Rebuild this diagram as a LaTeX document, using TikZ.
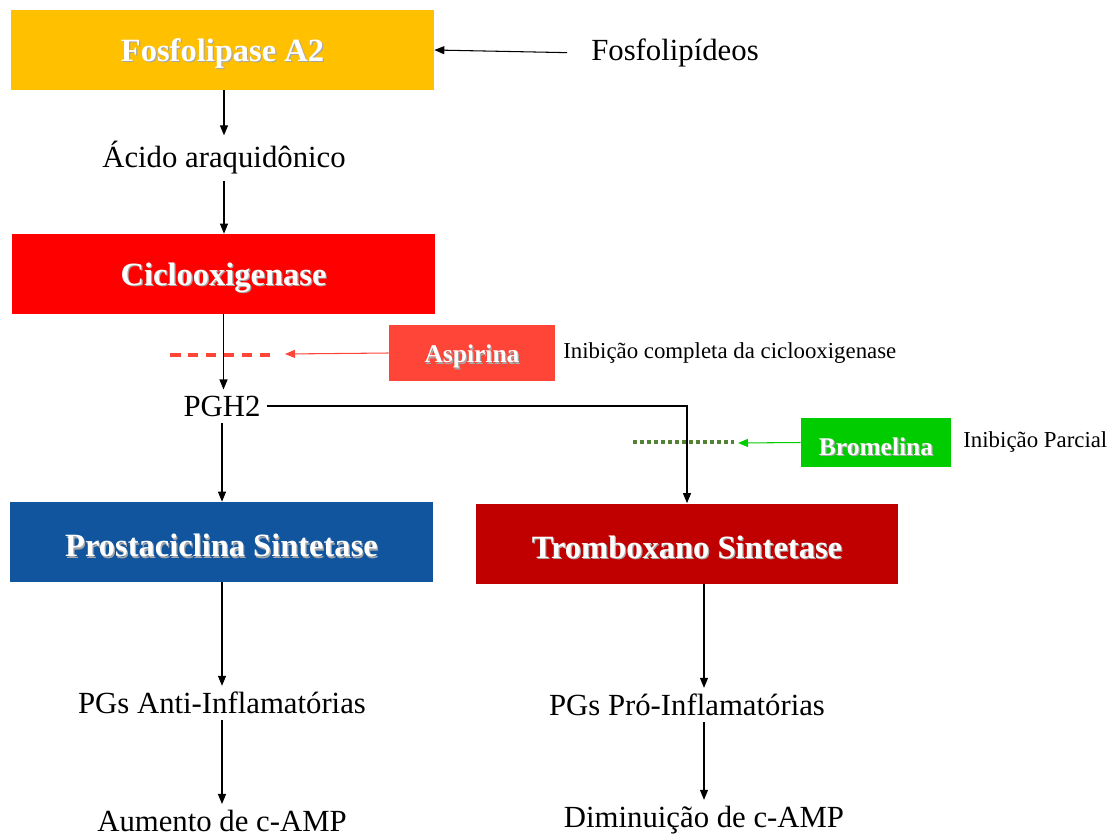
\documentclass[tikz,border=0pt]{standalone}
\usepackage{fontspec}
\setmainfont{Liberation Serif}
\usepackage{tikz}
\usetikzlibrary{arrows.meta}
\usepackage{xcolor}

\definecolor{fosfocolor}{HTML}{FFC000}
\definecolor{ciclocolor}{HTML}{FF0000}
\definecolor{prostcolor}{HTML}{11559F}
\definecolor{trombcolor}{HTML}{C00000}
\definecolor{aspcolor}{HTML}{FF4438}
\definecolor{bromcolor}{HTML}{00CC00}
\definecolor{bromdot}{HTML}{548235}

\newcommand{\shadowed}[1]{\raisebox{-2.5pt}[\height][\depth]{\rlap{\kern0.7pt\raisebox{-0.7pt}{\color{black!35}#1}}#1}}

\begin{document}
\begin{tikzpicture}[x=0.02cm, y=-0.02cm,
    enzyme/.style={fill=#1, text=white, inner sep=0pt,
      minimum width=8.46cm, minimum height=1.6cm,
      font=\fontsize{18.5}{21}\selectfont\bfseries},
    drug/.style={fill=#1, text=white, inner sep=0pt,
      font=\fontsize{14.5}{17}\selectfont\bfseries},
    term/.style={font=\fontsize{17.5}{20}\selectfont},
    note/.style={font=\fontsize{13}{15}\selectfont, inner sep=0pt},
    flow/.style={-{Triangle[length=0.2cm, width=0.16cm]}, line width=0.6pt}]
    \useasboundingbox (0,0) rectangle (1112,839);

    \node[enzyme=fosfocolor] (fosfo) at (222.5, 50) {\shadowed{Fosfolipase A2}};
    \node[term] (fosfolip) at (675, 53) {Fosfolipídeos};
    \node[term] (acido) at (224, 158) {Ácido araquidônico};
    \node[enzyme=ciclocolor] (ciclo) at (223.5, 274) {\shadowed{Ciclooxigenase}};
    \node[term] (pgh) at (222, 406) {PGH2};

    \node[drug=aspcolor, minimum width=3.32cm, minimum height=1.12cm] (asp) at (472, 353) {\shadowed{Aspirina}};
    \node[note, anchor=west] (aspnote) at (563, 353) {Inibição completa da ciclooxigenase};
    \node[drug=bromcolor, minimum width=3cm, minimum height=0.98cm] (brom) at (876, 442.5) {\shadowed{Bromelina}};
    \node[note, anchor=west] (bromnote) at (963, 442) {Inibição Parcial};

    \node[enzyme=prostcolor] (prost) at (221.5, 542) {\shadowed{Prostaciclina Sintetase}};
    \node[enzyme=trombcolor] (tromb) at (687, 543.5) {\shadowed{Tromboxano Sintetase}};

    \node[term] (pganti) at (222, 703) {PGs Anti-Inflamatórias};
    \node[term] (pgpro) at (687, 705) {PGs Pró-Inflamatórias};
    \node[term] (aumento) at (222, 821) {Aumento de c-AMP};
    \node[term] (diminui) at (704, 820) {Diminuição de c-AMP};

    % inhibition marks
    \coordinate (aspa) at (170, 355);
    \coordinate (aspb) at (272, 355);
    \coordinate (asptip) at (285, 354);
    \coordinate (broma) at (633, 442);
    \coordinate (bromb) at (735, 442);
    \coordinate (bromtip) at (738, 443);

    \draw[flow, shorten <=0.36cm] (fosfolip.west) -- (fosfo.east);
    \draw[flow] (fosfo.south -| acido) -- (acido.north);
    \draw[flow] (acido.south) -- (ciclo.north -| acido);
    \draw[flow] (ciclo.south) -- (pgh.north -| ciclo);
    \draw[aspcolor, line width=0.08cm, dash pattern=on 0.21cm off 0.15cm] (aspa) -- (aspb);
    \draw[flow, aspcolor] (asp.west) -- (asptip);
    \draw[flow] (pgh.east) -| (tromb.north);
    \draw[bromdot, line width=0.08cm, dash pattern=on 0.07cm off 0.07cm] (broma) -- (bromb);
    \draw[flow, bromcolor] (brom.west) -- (bromtip);
    \draw[flow] (pgh.south) -- (prost.north -| pgh);
    \draw[flow] (prost.south -| pganti) -- (pganti.north);
    \draw[flow] (tromb.south -| diminui) -- (pgpro.north -| diminui);
    \draw[flow] (pganti.south) -- (aumento.north);
    \draw[flow] (pgpro.south -| diminui) -- (diminui.north);
\end{tikzpicture}
\end{document}
